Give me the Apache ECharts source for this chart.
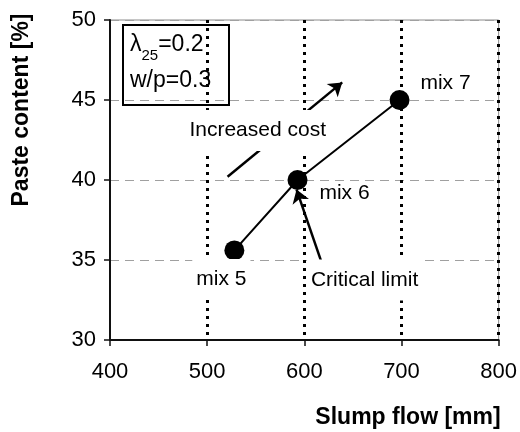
<!DOCTYPE html>
<html>
<head>
<meta charset="utf-8">
<script src="https://cdn.jsdelivr.net/npm/echarts@6/dist/echarts.min.js"></script>
<style>
html, body { margin: 0; padding: 0; background: #fff; }
#chart { width: 520px; height: 432px; }
</style>
</head>
<body>
<div id="chart"></div>
<script>
var slumpFlow = [528, 593, 698];      // mm
var pasteContent = [35.6, 40, 45];    // %
var mixNames = ['mix 5', 'mix 6', 'mix 7'];

var xTicks = [400, 500, 600, 700, 800];
var yTicks = [30, 35, 40, 45, 50];

// annotation texts and where they sit (data coords)
var noteText = ['Increased cost', 'Critical limit'];
var noteX = [552, 662];
var noteY = [43.1, 33.75];

// arrows, from -> to (data coords)
var arrowFrom = [[521, 40.2], [618, 34.8]];
var arrowTo = [[639, 46.1], [592, 39.4]];

var font = 'Liberation Sans, Arial, sans-serif';

var chart = echarts.init(document.getElementById('chart'));

var points = [];
for (var i = 0; i < slumpFlow.length; i++) {
  points.push([slumpFlow[i], pasteContent[i]]);
}
// where each mix label goes relative to its point
var mixLabelOffset = [[-13, 29], [47, 13], [46, -17]];

var notes = [];
for (var j = 0; j < noteText.length; j++) {
  notes.push({ value: [noteX[j], noteY[j]], name: noteText[j] });
}

var arrows = [];
for (var k = 0; k < arrowFrom.length; k++) {
  arrows.push([{ coord: arrowFrom[k] }, { coord: arrowTo[k] }]);
}

var option = {
  animation: false,
  backgroundColor: '#fff',
  grid: { left: 110, right: 20, top: 20, bottom: 92, show: true, borderColor: '#8c8c8c', borderWidth: 1 },
  xAxis: {
    type: 'value',
    min: xTicks[0], max: xTicks[xTicks.length - 1], interval: 100,
    axisLine: { lineStyle: { color: '#111', width: 2 } },
    axisTick: { show: true, length: 6, lineStyle: { color: '#111', width: 1.5 } },
    axisLabel: { color: '#000', fontFamily: font, fontSize: 22, margin: 21 },
    splitLine: { show: true, showMinLine: false, lineStyle: { color: '#000', width: 3, type: [3, 5] } }
  },
  yAxis: {
    type: 'value',
    min: yTicks[0], max: yTicks[yTicks.length - 1], interval: 5,
    axisLine: { show: true, lineStyle: { color: '#111', width: 2 } },
    axisTick: { show: true, length: 6, lineStyle: { color: '#111', width: 1.5 } },
    axisLabel: { color: '#000', fontFamily: font, fontSize: 22, margin: 14 },
    splitLine: { show: true, showMinLine: false, lineStyle: { color: '#a0a0a0', width: 1.2, type: [9, 6] } }
  },
  graphic: [
    {
      type: 'text', z: 10, x: 22, y: 110, rotation: Math.PI / 2,
      style: { text: 'Paste content [%]', fill: '#000', font: 'bold 23px ' + font, textAlign: 'center', textVerticalAlign: 'middle' }
    },
    {
      type: 'text', z: 10, x: 408, y: 418,
      style: { text: 'Slump flow [mm]', fill: '#000', font: 'bold 23px ' + font, textAlign: 'center', textVerticalAlign: 'middle' }
    },
    {
      type: 'group', x: 123, y: 25, z: 10,
      children: [
        { type: 'rect', shape: { x: 0, y: 0, width: 106, height: 80 }, style: { fill: '#fff', stroke: '#000', lineWidth: 2 } },
        {
          type: 'text', x: 7, y: 2,
          style: {
            text: '{a|λ}{s|25}{a|=0.2}\n{a|w/p=0.3}',
            rich: {
              a: { fontFamily: font, fontSize: 23, color: '#000', lineHeight: 36 },
              s: { fontFamily: font, fontSize: 15, color: '#000', lineHeight: 36, verticalAlign: 'bottom', padding: [12, 0, 0, 0] }
            }
          }
        }
      ]
    }
  ],
  series: [
    {
      name: 'mixes',
      type: 'line',
      z: 4,
      data: points.map(function (p, i) {
        return {
          value: p,
          label: {
            show: true, formatter: mixNames[i], position: 'inside',
            offset: mixLabelOffset[i],
            color: '#000', fontFamily: font, fontSize: 21,
            backgroundColor: i === 0 ? '#fff' : 'transparent', padding: [10, 4]
          }
        };
      }),
      symbol: 'circle',
      symbolSize: 20,
      itemStyle: { color: '#000', opacity: 1 },
      lineStyle: { color: '#000', width: 2 }
    },
    {
      name: 'arrows',
      type: 'scatter',
      z: 3,
      data: [],
      markLine: {
        silent: true,
        symbol: ['none', 'arrow'],
        symbolSize: 13,
        label: { show: false },
        lineStyle: { color: '#000', width: 2.5, type: 'solid', opacity: 1 },
        data: arrows
      }
    },
    {
      name: 'notes',
      type: 'scatter',
      z: 6,
      symbolSize: 0,
      itemStyle: { opacity: 1 },
      data: notes,
      label: {
        show: true, position: 'inside', formatter: '{b}',
        color: '#000', fontFamily: font, fontSize: 21,
        backgroundColor: '#fff', padding: [10, 4]
      }
    }
  ]
};

chart.setOption(option);
</script>
</body>
</html>
